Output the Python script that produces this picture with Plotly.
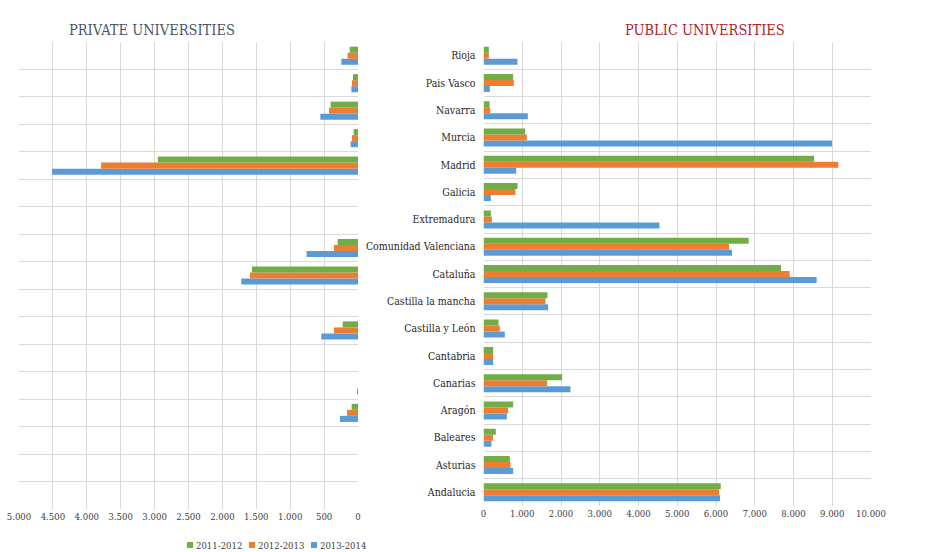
import plotly.graph_objects as go

regions = ["Andalucia", "Asturias", "Baleares", "Aragón", "Canarias", "Cantabria",
           "Castilla y León", "Castilla la mancha", "Cataluña", "Comunidad Valenciana",
           "Extremadura", "Galicia", "Madrid", "Murcia", "Navarra", "Pais Vasco", "Rioja"]

years = ["2011-2012", "2012-2013", "2013-2014"]
colors = {"2011-2012": "#70AD47", "2012-2013": "#ED7D31", "2013-2014": "#5B9BD5"}

# Private universities, per region (same order as regions)
private_2011 = [0, 0, 0, 94, 0, 0, 226, 0, 1565, 300, 0, 0, 2953, 64, 404, 74, 123]
private_2012 = [0, 0, 0, 162, 0, 0, 354, 0, 1594, 354, 0, 0, 3789, 89, 428, 89, 153]
private_2013 = [0, 0, 0, 266, 8, 0, 541, 0, 1722, 758, 0, 0, 4513, 108, 556, 98, 246]

# Public universities, per region (same order as regions)
public_2011 = [6122, 679, 318, 765, 2029, 249, 387, 1651, 7678, 6844, 189, 877, 8530, 1075, 155, 765, 138]
public_2012 = [6079, 696, 249, 636, 1642, 249, 421, 1599, 7902, 6337, 215, 825, 9157, 1118, 172, 782, 138]
public_2013 = [6105, 765, 206, 602, 2244, 249, 550, 1668, 8598, 6414, 4540, 189, 843, 8994, 1144, 163, 877]

private = {"2011-2012": private_2011, "2012-2013": private_2012, "2013-2014": private_2013}
public = {"2011-2012": public_2011, "2012-2013": public_2012, "2013-2014": public_2013}

private_ticks = list(range(0, 5001, 500))
public_ticks = list(range(0, 10001, 1000))

serif = "DejaVu Serif Condensed, DejaVu Serif"
grid = "#D9D9D9"

fig = go.Figure()

# Plotly stacks horizontal groups bottom-up, so add the latest year first
for yr in reversed(years):
    fig.add_trace(go.Bar(
        y=regions, x=private[yr], orientation="h", name=yr,
        marker=dict(color=colors[yr], line=dict(width=0)),
        xaxis="x", yaxis="y", showlegend=False,
    ))
for yr in reversed(years):
    fig.add_trace(go.Bar(
        y=regions, x=public[yr], orientation="h", name=yr,
        marker=dict(color=colors[yr], line=dict(width=0)),
        xaxis="x2", yaxis="y2", showlegend=False,
    ))

# Compact legend row under the private panel: colour swatch + year label
legend_shapes = []
legend_notes = []
legend_x0 = 187
legend_step = 62
legend_y = 552 - 545
for i, yr in enumerate(years):
    x0 = legend_x0 + i * legend_step
    legend_shapes.append(dict(
        type="rect", xref="paper", yref="paper",
        x0=x0 / 925, x1=(x0 + 6) / 925,
        y0=(legend_y - 3) / 552, y1=(legend_y + 3) / 552,
        fillcolor=colors[yr], line=dict(width=0),
    ))
    legend_notes.append(dict(
        text=yr, xref="paper", yref="paper", x=(x0 + 7) / 925, y=legend_y / 552,
        xanchor="left", yanchor="middle", showarrow=False,
        font=dict(family=serif, size=9.5, color="#404040"),
    ))

fig.update_layout(
    width=925, height=552,
    margin=dict(l=0, r=0, t=0, b=0),
    paper_bgcolor="white", plot_bgcolor="white",
    separators=",.",
    barmode="group", bargap=0.34, bargroupgap=0,
    font=dict(family=serif, size=10, color="#404040"),
    showlegend=False,
    xaxis=dict(
        domain=[19 / 925, 358 / 925], range=[5000, 0],
        tickvals=private_ticks, tickformat=",d",
        showgrid=True, gridcolor=grid, gridwidth=1,
        zeroline=False, showline=False, ticks="", automargin=False,
        tickfont=dict(family=serif, size=9.5, color="#404040"), anchor="y",
    ),
    yaxis=dict(
        domain=[(552 - 509) / 552, (552 - 42) / 552],
        type="category", categoryorder="array", categoryarray=regions,
        tickson="boundaries", showgrid=True, gridcolor=grid, gridwidth=1,
        showticklabels=False, ticks="", showline=False, zeroline=False,
        automargin=False, anchor="x",
    ),
    xaxis2=dict(
        domain=[483.5 / 925, 871 / 925], range=[0, 10000],
        tickvals=public_ticks, tickformat=",d",
        showgrid=True, gridcolor=grid, gridwidth=1,
        zeroline=False, showline=False, ticks="", automargin=False,
        tickfont=dict(family=serif, size=9.5, color="#404040"), anchor="y2",
    ),
    yaxis2=dict(
        domain=[(552 - 506) / 552, (552 - 42) / 552],
        type="category", categoryorder="array", categoryarray=regions,
        tickson="boundaries", showgrid=True, gridcolor=grid, gridwidth=1,
        ticks="", showline=False, zeroline=False, automargin=False,
        ticklabelstandoff=7,
        tickfont=dict(family=serif, size=10.5, color="#262626"), anchor="x2",
    ),
    shapes=legend_shapes,
    annotations=[
        dict(text="PRIVATE UNIVERSITIES", x=152 / 925, y=(552 - 20) / 552,
             xref="paper", yref="paper", showarrow=False, xanchor="center",
             font=dict(family=serif, size=14.5, color="#4A5568")),
        dict(text="PUBLIC UNIVERSITIES", x=705 / 925, y=(552 - 20) / 552,
             xref="paper", yref="paper", showarrow=False, xanchor="center",
             font=dict(family=serif, size=14.5, color="#B22222")),
    ] + legend_notes,
)

fig.write_html("out.html")
